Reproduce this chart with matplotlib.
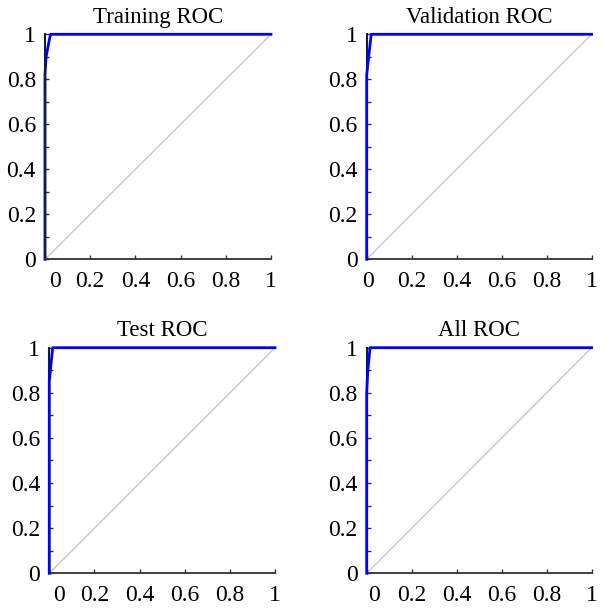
import matplotlib
matplotlib.use("Agg")
import matplotlib.pyplot as plt
import matplotlib.transforms as mtransforms
from matplotlib.ticker import MultipleLocator

plt.rcParams['font.family'] = ['Liberation Serif', 'DejaVu Serif']

titles = ["Training ROC", "Validation ROC", "Test ROC", "All ROC"]
train_fpr = [0.0, 0.0, 0.005, 0.02, 0.025, 1.0]
train_tpr = [0.0, 0.82, 0.9, 0.98, 1.0, 1.0]
val_fpr = [0.0, 0.0, 0.02, 1.0]
val_tpr = [0.0, 0.82, 1.0, 1.0]
test_fpr = [0.0, 0.0, 0.015, 1.0]
test_tpr = [0.0, 0.85, 1.0, 1.0]
all_fpr = [0.0, 0.0, 0.005, 0.015, 1.0]
all_tpr = [0.0, 0.8, 0.9, 1.0, 1.0]
fprs = [train_fpr, val_fpr, test_fpr, all_fpr]
tprs = [train_tpr, val_tpr, test_tpr, all_tpr]
xticks = [0, 0.2, 0.4, 0.6, 0.8, 1]
xticklabels = ["0", "0.2", "0.4", "0.6", "0.8", "1"]
yticks = [0, 0.2, 0.4, 0.6, 0.8, 1]
yticklabels = ["0", "0.2", "0.4", "0.6", "0.8", "1"]

W, H = 605, 608
fig = plt.figure(figsize=(W / 100, H / 100), dpi=100)

# pixel boxes: left, top, right, bottom
boxes = [(45, 34.3, 271, 259.3), (366.7, 34.3, 591.7, 259.3),
         (49.3, 347.7, 275, 573.3), (366.7, 347.7, 591.7, 573.3)]
first_label_shift = [10, 1, 10, 7]
title_pads = [8, 8, 8.5, 8.5]
line_z = [2, 3, 3, 3]

for i in range(4):
    l, t, r, b = boxes[i]
    ax = fig.add_axes([l / W, 1 - b / H, (r - l) / W, (b - t) / H])
    ax.plot([0, 1], [0, 1], color='#c8c8c8', lw=1.0, zorder=1)
    ax.plot(fprs[i], tprs[i], color='#0000ff', lw=2.0, zorder=line_z[i], clip_on=False)
    ax.set_xlim(0, 1)
    ax.set_ylim(0, 1)
    for s in ['top', 'right']:
        ax.spines[s].set_visible(False)
    ax.spines['left'].set_color('#1a1a33')
    ax.spines['bottom'].set_color('#333333')
    ax.spines['left'].set_linewidth(1.5)
    ax.spines['bottom'].set_linewidth(1.3)
    ax.set_xticks(xticks)
    ax.set_xticklabels(xticklabels)
    ax.set_yticks(yticks)
    ax.set_yticklabels(yticklabels)
    ax.yaxis.set_minor_locator(MultipleLocator(0.1))
    ax.tick_params(which='both', direction='in', length=3, width=1, colors='#333333',
                   labelcolor='black', labelsize=17)
    ax.tick_params(axis='x', pad=8.5)
    ax.tick_params(axis='y', pad=6.5)
    ax.set_title(titles[i], fontsize=16.5, pad=title_pads[i])
    lab = ax.get_xticklabels()[0]
    lab.set_transform(lab.get_transform() + mtransforms.ScaledTranslation(first_label_shift[i] / 100, 0, fig.dpi_scale_trans))

fig.savefig("out.png", dpi=100)
